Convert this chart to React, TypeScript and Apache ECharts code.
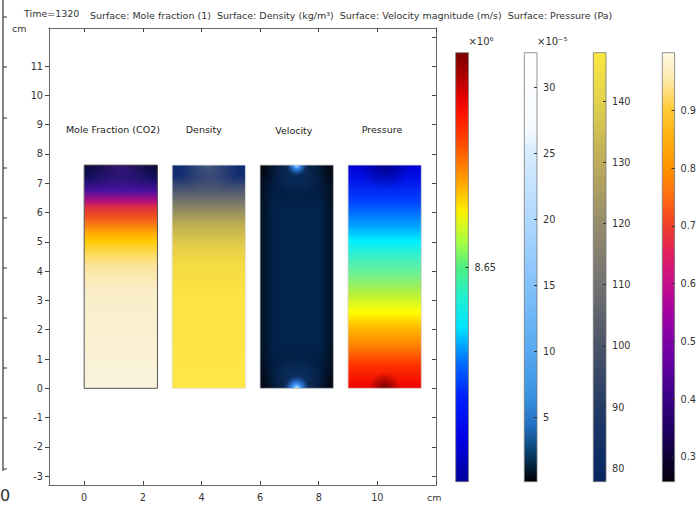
import React, { useEffect, useRef } from "react";
import * as echarts from "echarts";

const FONT = '"DejaVu Sans", sans-serif';

// ---------------- data ----------------
const timeLabel = "Time=1320";
const plotTitle =
  "Surface: Mole fraction (1)  Surface: Density (kg/m³)  Surface: Velocity magnitude (m/s)  Surface: Pressure (Pa)";
const axisUnit = "cm";

const xRange = [-1.2, 12.0];
const yRange = [-3.3, 12.3];
const xTicks = [0, 2, 4, 6, 8, 10];
const xFrameTicks = [0, 2, 4, 6, 8, 10, 12];
const yTicks = [-3, -2, -1, 0, 1, 2, 3, 4, 5, 6, 7, 8, 9, 10, 11];
const yFrameTicks = [-3, -2, -1, 0, 1, 2, 3, 4, 5, 6, 7, 8, 9, 10, 11, 12];

const surfaceNames = ["Mole Fraction (CO2)", "Density", "Velocity", "Pressure"];
const surfaceXStart = [0, 3, 6, 9];
const surfaceXEnd = [2.5, 5.5, 8.5, 11.5];
const surfaceYBottom = [0, 0, 0, 0];
const surfaceYTop = [7.62, 7.62, 7.62, 7.62];
const surfaceLabelX = [0.98, 4.08, 7.15, 10.16];
const surfaceLabelY = [8.83, 8.83, 8.8, 8.85];

const colorbarUnits = ["×10⁶", "×10⁻⁵", "", ""];
const colorbarMin = [8.6495, 0.1, 77.8, 0.257];
const colorbarMax = [8.6505, 32.6, 147.9, 1.0];
const pressureTicks = [8.65];
const velocityTicks = [5, 10, 15, 20, 25, 30];
const densityTicks = [80, 90, 100, 110, 120, 130, 140];
const moleTicks = [0.3, 0.4, 0.5, 0.6, 0.7, 0.8, 0.9];
const colorbarTicks = [pressureTicks, velocityTicks, densityTicks, moleTicks];

// ---------------- styles ----------------
type Stop = [number, string];
const mk = (s: Stop[]) => s.map(([offset, color]) => ({ offset, color }));

const pressureBarRamp = mk([
  [0, "#7a0000"], [0.05, "#a80000"], [0.1, "#e00000"], [0.14, "#ff1000"], [0.2, "#ff4000"],
  [0.29, "#ff9800"], [0.37, "#fff000"], [0.44, "#a8ff40"], [0.5, "#50f080"], [0.57, "#20f0d0"],
  [0.64, "#00e4ff"], [0.72, "#0070ff"], [0.8, "#0020ff"], [0.9, "#0000e8"], [1, "#00009a"],
]);
const velocityBarRamp = mk([
  [0, "#ffffff"], [0.18, "#f6faff"], [0.23, "#d8ecff"], [0.39, "#b0d8ff"], [0.54, "#84c2fa"],
  [0.69, "#58aaf0"], [0.8, "#3a92e0"], [0.87, "#2070c0"], [0.93, "#0a4070"], [0.97, "#021a30"], [1, "#000000"],
]);
const densityBarRamp = mk([
  [0, "#fde840"], [0.11, "#e2d24c"], [0.26, "#bcaa5c"], [0.4, "#968c6c"], [0.54, "#727272"],
  [0.68, "#4c5468"], [0.83, "#223a66"], [0.95, "#0c2c66"], [1, "#082660"],
]);
const moleBarRamp = mk([
  [0, "#fff8e4"], [0.06, "#feeab0"], [0.13, "#ffcc38"], [0.2, "#ffb010"], [0.27, "#ff9200"],
  [0.33, "#ff7010"], [0.4, "#f04028"], [0.47, "#e02060"], [0.53, "#c81088"], [0.6, "#a800a0"],
  [0.67, "#8000a8"], [0.73, "#6000a0"], [0.8, "#3c0088"], [0.88, "#200060"], [0.94, "#100038"], [1, "#04000e"],
]);
const colorbarRamps = [pressureBarRamp, velocityBarRamp, densityBarRamp, moleBarRamp];
const colorbarLeft = [455.7, 524.3, 593.3, 662.3];

type Overlay =
  | { kind: "radial"; fx: number; fy: number; r: number; stops: any[] }
  | { kind: "horiz"; stops: any[] };

const surfaceStyles: { ramp: any[]; overlays: Overlay[]; border: string; bw: number }[] = [
  {
    ramp: mk([
      [0, "#0a0834"], [0.057, "#141060"], [0.117, "#4c10a0"], [0.16, "#b01080"], [0.19, "#e03040"],
      [0.23, "#f05020"], [0.27, "#f88010"], [0.31, "#ffb000"], [0.34, "#ffc800"], [0.4, "#fedc60"],
      [0.46, "#fbe6a0"], [0.57, "#faeec8"], [1, "#faf3dc"],
    ]),
    overlays: [
      { kind: "radial", fx: 0.5, fy: 0, r: 34, stops: mk([[0, "rgba(90,30,170,0.55)"], [1, "rgba(90,30,170,0)"]]) },
    ],
    border: "#555",
    bw: 1,
  },
  {
    ramp: mk([
      [0, "#0a2a72"], [0.05, "#142e70"], [0.117, "#505a70"], [0.19, "#8a8466"], [0.27, "#c0b050"],
      [0.36, "#e4cc48"], [0.45, "#f4dc44"], [0.6, "#fce442"], [1, "#ffe845"],
    ]),
    overlays: [
      { kind: "radial", fx: 0.5, fy: 0, r: 30, stops: mk([[0, "rgba(130,130,130,0.5)"], [1, "rgba(130,130,130,0)"]]) },
    ],
    border: "#dcdcdc",
    bw: 0.8,
  },
  {
    ramp: mk([
      [0, "#020c20"], [0.08, "#021c40"], [0.2, "#02234c"], [0.8, "#02234c"], [0.92, "#021c40"], [1, "#020c20"],
    ]),
    overlays: [
      { kind: "horiz", stops: mk([[0, "rgba(0,0,0,0.55)"], [0.2, "rgba(0,0,0,0)"], [0.8, "rgba(0,0,0,0)"], [1, "rgba(0,0,0,0.55)"]]) },
      { kind: "radial", fx: 0.5, fy: 0, r: 30, stops: mk([[0, "rgba(30,100,190,0.45)"], [1, "rgba(30,100,190,0)"]]) },
      { kind: "radial", fx: 0.5, fy: 1, r: 32, stops: mk([[0, "rgba(30,100,190,0.5)"], [1, "rgba(30,100,190,0)"]]) },
      { kind: "radial", fx: 0.5, fy: 0, r: 10, stops: mk([[0, "rgba(190,230,255,1)"], [0.35, "rgba(60,150,255,0.9)"], [1, "rgba(40,120,230,0)"]]) },
      { kind: "radial", fx: 0.5, fy: 1, r: 12, stops: mk([[0, "rgba(210,240,255,1)"], [0.35, "rgba(60,150,255,0.95)"], [1, "rgba(40,120,230,0)"]]) },
    ],
    border: "#c4c4c4",
    bw: 0.8,
  },
  {
    ramp: mk([
      [0, "#0000d4"], [0.057, "#0010e8"], [0.16, "#0040ff"], [0.27, "#00a0ff"], [0.34, "#00f0ff"],
      [0.42, "#40f0c0"], [0.49, "#70f090"], [0.57, "#b0f040"], [0.66, "#ffff00"], [0.72, "#ffc000"],
      [0.81, "#ff8000"], [0.9, "#ff3000"], [1, "#f00000"],
    ]),
    overlays: [
      { kind: "radial", fx: 0.5, fy: 0, r: 26, stops: mk([[0, "rgba(0,0,90,0.6)"], [1, "rgba(0,0,90,0)"]]) },
      { kind: "radial", fx: 0.5, fy: 1, r: 16, stops: mk([[0, "rgba(110,0,0,0.95)"], [1, "rgba(110,0,0,0)"]]) },
    ],
    border: "#d8d0d0",
    bw: 0.8,
  },
];

const strayTicksY = [17, 67, 118, 168, 218, 268, 318, 368, 418, 469];

export default function App() {
  const ref = useRef<HTMLDivElement>(null);

  useEffect(() => {
    if (!ref.current) return;
    const chart = echarts.init(ref.current, null, { renderer: "svg" });

    const labelStyle = { color: "#333", fontSize: 9.7, fontFamily: FONT };
    const frameLine = { show: true, onZero: false, lineStyle: { color: "#666", width: 1 } };

    const grids: any[] = [{ left: 49, top: 28, width: 387, height: 457 }];
    colorbarLeft.forEach((l) => grids.push({ left: l, top: 52.7, width: 12.7, height: 429 }));

    const xAxes: any[] = [
      {
        gridIndex: 0, type: "value", min: xRange[0], max: xRange[1], position: "bottom",
        axisLine: frameLine,
        axisTick: { show: true, inside: true, length: 4, customValues: xFrameTicks, lineStyle: { color: "#444" } },
        axisLabel: { customValues: xTicks, margin: 7, ...labelStyle },
        splitLine: { show: false },
      },
      {
        gridIndex: 0, type: "value", min: xRange[0], max: xRange[1], position: "top",
        axisLine: frameLine,
        axisTick: { show: true, inside: true, length: 4, customValues: xFrameTicks, lineStyle: { color: "#444" } },
        axisLabel: { show: false },
        splitLine: { show: false },
      },
    ];
    const yAxes: any[] = [
      {
        gridIndex: 0, type: "value", min: yRange[0], max: yRange[1], position: "left",
        axisLine: frameLine,
        axisTick: { show: true, inside: false, length: 4, customValues: yTicks, lineStyle: { color: "#444" } },
        axisLabel: { customValues: yTicks, margin: 6, ...labelStyle },
        splitLine: { show: false },
      },
      {
        gridIndex: 0, type: "value", min: yRange[0], max: yRange[1], position: "right",
        axisLine: frameLine,
        axisTick: { show: true, inside: true, length: 4, customValues: yFrameTicks, lineStyle: { color: "#444" } },
        axisLabel: { show: false },
        splitLine: { show: false },
      },
    ];

    const series: any[] = [
      {
        type: "custom",
        coordinateSystem: "cartesian2d",
        xAxisIndex: 0,
        yAxisIndex: 0,
        data: surfaceNames.map((_, i) => [
          surfaceXStart[i], surfaceXEnd[i], surfaceYBottom[i], surfaceYTop[i], surfaceLabelX[i], surfaceLabelY[i],
        ]),
        renderItem: (params: any, api: any) => {
          const i = params.dataIndex;
          const tl = api.coord([api.value(0), api.value(3)]);
          const br = api.coord([api.value(1), api.value(2)]);
          const lab = api.coord([api.value(4), api.value(5)]);
          const x = tl[0], y = tl[1], w = br[0] - tl[0], h = br[1] - tl[1];
          const st = surfaceStyles[i];
          const shape = { x, y, width: w, height: h };
          const children: any[] = [
            { type: "rect", shape, style: { fill: new echarts.graphic.LinearGradient(0, 0, 0, 1, st.ramp) } },
          ];
          st.overlays.forEach((o) => {
            const fill =
              o.kind === "radial"
                ? new echarts.graphic.RadialGradient(x + o.fx * w, y + o.fy * h, o.r, o.stops, true)
                : new echarts.graphic.LinearGradient(0, 0, 1, 0, o.stops);
            children.push({ type: "rect", shape, style: { fill } });
          });
          children.push({ type: "rect", shape, style: { fill: "none", stroke: st.border, lineWidth: st.bw } });
          children.push({
            type: "text",
            style: {
              text: surfaceNames[i], x: lab[0], y: lab[1], align: "center", verticalAlign: "middle",
              fill: "#222", fontSize: 9.5, fontFamily: FONT,
            },
          });
          return { type: "group", children };
        },
      },
    ];

    colorbarLeft.forEach((_, k) => {
      const gi = k + 1;
      const ai = k + 2;
      xAxes.push({ gridIndex: gi, type: "value", min: 0, max: 1, show: false });
      yAxes.push({
        gridIndex: gi, type: "value", position: "right", min: colorbarMin[k], max: colorbarMax[k], z: 10,
        name: colorbarUnits[k], nameLocation: "end", nameGap: 6,
        nameTextStyle: { align: "left", color: "#333", fontSize: 10, fontFamily: FONT },
        axisLine: { show: false, onZero: false },
        axisTick: { show: true, inside: true, length: 3, customValues: colorbarTicks[k], lineStyle: { color: "#333" } },
        axisLabel: { customValues: colorbarTicks[k], margin: 6, ...labelStyle },
        splitLine: { show: false },
      });
      series.push({
        type: "custom",
        coordinateSystem: "cartesian2d",
        xAxisIndex: ai,
        yAxisIndex: ai,
        z: 1,
        data: [[0, 1, colorbarMin[k], colorbarMax[k]]],
        renderItem: (params: any, api: any) => {
          const tl = api.coord([api.value(0), api.value(3)]);
          const br = api.coord([api.value(1), api.value(2)]);
          return {
            type: "rect",
            shape: { x: tl[0], y: tl[1], width: br[0] - tl[0], height: br[1] - tl[1] },
            style: {
              fill: new echarts.graphic.LinearGradient(0, 0, 0, 1, colorbarRamps[k]),
              stroke: "#777",
              lineWidth: 0.8,
            },
          };
        },
      });
    });

    const graphic: any[] = [
      { type: "text", x: 24, y: 13, style: { text: timeLabel, fontSize: 9.5, fontFamily: FONT, fill: "#333", verticalAlign: "middle" } },
      { type: "text", x: 90, y: 15.5, style: { text: plotTitle, fontSize: 9.5, fontFamily: FONT, fill: "#333", verticalAlign: "middle" } },
      { type: "text", x: 12, y: 28.5, style: { text: axisUnit, fontSize: 9.5, fontFamily: FONT, fill: "#333", verticalAlign: "middle" } },
      { type: "text", x: 427, y: 497.5, style: { text: axisUnit, fontSize: 9.5, fontFamily: FONT, fill: "#333", verticalAlign: "middle" } },
      { type: "line", shape: { x1: 3, y1: 0, x2: 3, y2: 471 }, style: { stroke: "#333", lineWidth: 1.2 } },
      ...strayTicksY.map((ty) => ({ type: "line", shape: { x1: 3, y1: ty, x2: 7, y2: ty }, style: { stroke: "#333", lineWidth: 1 } })),
      { type: "text", x: 0, y: 495, style: { text: "0", fontSize: 16, fontFamily: FONT, fill: "#333", verticalAlign: "middle" } },
    ];

    chart.setOption({
      animation: false,
      backgroundColor: "#ffffff",
      textStyle: { fontFamily: FONT },
      grid: grids,
      xAxis: xAxes,
      yAxis: yAxes,
      series,
      graphic,
    });

    return () => chart.dispose();
  }, []);

  return <div ref={ref} style={{ position: "absolute", left: 0, top: 0, width: 699, height: 505 }} />;
}
